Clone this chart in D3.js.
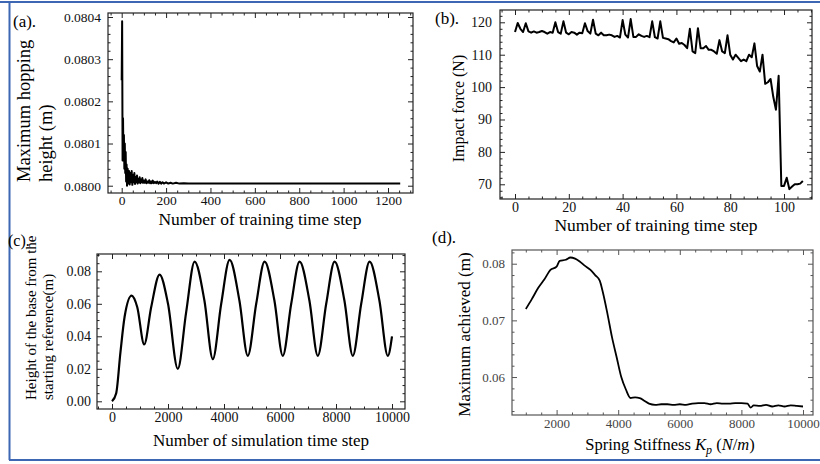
<!DOCTYPE html>
<html>
<head>
<meta charset="utf-8">
<script src="https://cdn.jsdelivr.net/npm/d3@7"></script>
<style>
  body { margin: 0; background: #fff; }
  svg { display: block; }
  svg text { font-family: "Liberation Serif", "DejaVu Serif", serif; }
</style>
</head>
<body>
<svg id="fig" width="820" height="464"></svg>
<script>
// (a) max hopping height vs training step
const aSteps = [0, 2, 4, 6, 8, 10, 12, 14, 16, 18, 20, 22, 24, 27, 30, 33, 36, 39, 42, 45, 48, 51, 54, 57, 60,
  63, 66, 69, 72, 75, 78, 81, 84, 87, 90, 93, 96, 100, 104, 108, 112, 116, 120, 124, 128, 132, 136, 140,
  145, 150, 155, 160, 166, 172, 178, 184, 190, 200, 210, 220, 230, 245, 260, 280, 300, 330, 400, 600, 900, 1255];
const aHeight = [0.08025, 0.08039, 0.08006, 0.08016, 0.08006, 0.08012, 0.08004, 0.08010, 0.08003, 0.08008,
  0.08001, 0.08005, 0.08000, 0.080040, 0.080005, 0.080035, 0.080003, 0.080030, 0.080008, 0.080035, 0.080002,
  0.080025, 0.080008, 0.080030, 0.080004, 0.080020, 0.080008, 0.080024, 0.080005, 0.080016, 0.080008,
  0.080020, 0.080006, 0.080014, 0.080008, 0.080018, 0.080007, 0.080012, 0.080007, 0.080015, 0.080006,
  0.080010, 0.080007, 0.080013, 0.080006, 0.080010, 0.080006, 0.080012, 0.080006, 0.080009, 0.080006,
  0.080010, 0.080005, 0.080009, 0.080005, 0.080008, 0.080005, 0.080008, 0.080005, 0.080007, 0.080005,
  0.080007, 0.080005, 0.080006, 0.080005, 0.080005, 0.080005, 0.080005, 0.080005, 0.080005];
const aXTicks = [0, 200, 400, 600, 800, 1000, 1200];
const aYTicks = [0.0800, 0.0801, 0.0802, 0.0803, 0.0804];

// (b) impact force, one value per training step (index = step)
const bForce = [117, 119.8, 118, 117, 119.7, 117.2, 116.8, 117.2, 116.8, 117, 117.3, 117, 116.5, 117, 116.8,
  120, 117, 116.5, 120.3, 116.8, 116.3, 117, 116.8, 116.2, 116.8, 116.6, 119.7, 117.3, 116.5, 120.8,
  116.5, 116, 116.8, 116, 116, 116.2, 116, 115.5, 115.8, 115.3, 120.7, 116.2, 115.3, 121, 115.5,
  115.5, 116.3, 115.8, 115.5, 115.8, 115.4, 120.3, 115.4, 115, 120.3, 115.2, 115, 114.8, 114.2, 113.8,
  115, 113.4, 113.6, 113, 112, 118, 111, 110.5, 118.2, 112, 112, 112.7, 111.5, 111.5, 111, 110.3,
  114.5, 111, 110.5, 116, 110, 108.5, 110, 109, 108, 108.5, 108, 110, 109.2, 113.5, 106.5, 104.8,
  110, 101, 101.5, 102.5, 97, 93, 103.5, 69.5, 69.5, 72, 68.5, 69.3, 70, 70, 70.2, 71];
const bXTicks = [0, 20, 40, 60, 80, 100];
const bYTicks = [70, 80, 90, 100, 110, 120];

// (c) base height over simulation steps
const cSteps = [0, 150, 300, 450, 700, 900, 1150, 1400, 1700, 2000, 2350, 2650, 2950, 3300, 3600, 3900, 4200,
  4550, 4850, 5150, 5450, 5800, 6100, 6400, 6700, 7050, 7350, 7650, 7950, 8300, 8600, 8900, 9200, 9550, 9850, 10000];
const cHeight = [0.000, 0.005, 0.030, 0.052, 0.065, 0.058, 0.035, 0.058, 0.078, 0.060, 0.020, 0.055, 0.086,
  0.062, 0.026, 0.060, 0.087, 0.062, 0.028, 0.060, 0.086, 0.062, 0.028, 0.060, 0.086, 0.062, 0.028, 0.060,
  0.086, 0.062, 0.028, 0.060, 0.086, 0.062, 0.028, 0.040];
const cXTicks = [0, 2000, 4000, 6000, 8000, 10000];
const cYTicks = [0, 0.02, 0.04, 0.06, 0.08];

// (d) max height vs spring stiffness
const dStiff = [1000, 1200, 1400, 1600, 1800, 2000, 2100, 2300, 2450, 2600, 2750, 2900, 3100, 3250, 3400, 3500,
  3650, 3800, 3950, 4100, 4250, 4400, 4550, 4700, 4850, 5000, 5200, 5400, 5600, 5800, 6000, 6200, 6400,
  6600, 6800, 7000, 7200, 7400, 7600, 7800, 8000, 8200, 8300, 8400, 8600, 8800, 9000, 9200, 9400, 9600, 9800, 10000];
const dMax = [0.0720, 0.0738, 0.0757, 0.0772, 0.0789, 0.0795, 0.0805, 0.0807, 0.0811, 0.0809, 0.0804, 0.0797,
  0.0789, 0.0780, 0.0770, 0.0750, 0.0712, 0.0670, 0.0635, 0.0600, 0.0578, 0.0563, 0.0564, 0.0563, 0.0558,
  0.0553, 0.0551, 0.0552, 0.0552, 0.0551, 0.0552, 0.0551, 0.0553, 0.0554, 0.0554, 0.0552, 0.0554, 0.0553,
  0.0553, 0.0554, 0.0554, 0.0553, 0.0546, 0.0550, 0.0549, 0.0551, 0.0548, 0.0550, 0.0548, 0.0550, 0.0549, 0.0548];
const dXTicks = [2000, 4000, 6000, 8000, 10000];
const dYTicks = [0.06, 0.07, 0.08];

const SERIF = '"Liberation Serif", "DejaVu Serif", serif';
const svg = d3.select('#fig');

// blue figure border (top, left, bottom)
const blue = '#3d67b3';
svg.append('line').attr('x1', 0).attr('x2', 820).attr('y1', 2).attr('y2', 2).attr('stroke', blue).attr('stroke-width', 2);
svg.append('line').attr('x1', 9.5).attr('x2', 9.5).attr('y1', 2).attr('y2', 460).attr('stroke', blue).attr('stroke-width', 2);
svg.append('line').attr('x1', 9).attr('x2', 820).attr('y1', 460).attr('y2', 460).attr('stroke', blue).attr('stroke-width', 2);

function minorTicks(ticks, n, domain) {
  // n minor ticks between each pair of majors, extended over the domain
  const step = (ticks[1] - ticks[0]) / (n + 1);
  const out = [];
  const lo = Math.min(...domain), hi = Math.max(...domain);
  for (let v = ticks[0] - step * Math.floor((ticks[0] - lo) / step); v <= hi + 1e-12; v += step) {
    if (!ticks.some(t => Math.abs(t - v) < step * 0.01)) out.push(v);
  }
  return out;
}

function panel(o) {
  const x = d3.scaleLinear().domain(o.xDomain).range([o.left, o.right]);
  const y = d3.scaleLinear().domain(o.yDomain).range([o.bottom, o.top]);
  const g = svg.append('g');
  const xMinor = minorTicks(o.xTicks, o.xMinorN, o.xDomain);
  const yMinor = minorTicks(o.yTicks, o.yMinorN, o.yDomain);

  const sides = [
    [d3.axisBottom, x, `translate(0,${o.bottom})`, o.xTicks, xMinor, o.xFormat, o.xPad],
    [d3.axisTop, x, `translate(0,${o.top})`, o.xTicks, xMinor, null],
    [d3.axisLeft, y, `translate(${o.left},0)`, o.yTicks, yMinor, o.yFormat, o.yPad],
    [d3.axisRight, y, `translate(${o.right},0)`, o.yTicks, yMinor, null]
  ];
  sides.forEach(([ax, sc, tr, major, minor, fmt, pad]) => {
    const gm = g.append('g').attr('transform', tr)
      .call(ax(sc).tickValues(minor).tickSize(-2.5).tickFormat(''));
    const gM = g.append('g').attr('transform', tr)
      .call(ax(sc).tickValues(major).tickSize(-5).tickPadding(pad || 4)
        .tickFormat(fmt ? fmt : () => ''));
    [gm, gM].forEach(s => {
      s.select('.domain').remove();
      s.selectAll('line').attr('stroke', o.frameColor);
    });
    gM.attr('font-family', null).attr('font-size', null);
    gM.selectAll('text')
      .style('font-family', SERIF)
      .style('font-size', o.tickFont + 'px')
      .attr('fill', o.tickColor);
  });

  g.append('rect')
    .attr('x', o.left).attr('y', o.top)
    .attr('width', o.right - o.left).attr('height', o.bottom - o.top)
    .attr('fill', 'none').attr('stroke', o.frameColor).attr('stroke-width', 1.2);

  const line = d3.line()
    .x(d => x(d[0])).y(d => y(d[1]))
    .curve(o.curve || d3.curveLinear);
  g.append('path')
    .datum(o.points)
    .attr('d', line)
    .attr('fill', 'none')
    .attr('stroke', '#000')
    .attr('stroke-width', o.lineWidth)
    .attr('stroke-linejoin', 'round');
  return g;
}

function text(str, x, y, size, opts = {}) {
  const t = svg.append('text')
    .attr('x', x).attr('y', y)
    .style('font-family', SERIF)
    .style('font-size', size + 'px')
    .attr('fill', opts.fill || '#000')
    .attr('text-anchor', opts.anchor || 'start')
    .text(str);
  if (opts.rotate) t.attr('transform', `rotate(-90,${x},${y})`);
  return t;
}

// (a)
panel({
  left: 108, right: 413, top: 13, bottom: 193,
  xDomain: [-61.7, 1312.6], yDomain: [0.0799827, 0.0804095],
  xTicks: aXTicks, yTicks: aYTicks, xMinorN: 3, yMinorN: 4,
  xFormat: d3.format('d'), yFormat: d3.format('.4f'),
  xPad: 2, yPad: 7, tickFont: 13.5, tickColor: '#111', frameColor: '#222',
  points: aSteps.map((s, i) => [s, aHeight[i]]), lineWidth: 2
});
text('(a).', 13, 27, 17);
text('Number of training time step', 260, 225, 17.5, { anchor: 'middle' });
text('Maximum hopping', 30, 182, 18.5, { rotate: true });
text('height (m)', 52, 182, 18.5, { rotate: true });

// (b)
panel({
  left: 500, right: 812, top: 10, bottom: 199,
  xDomain: [-5.58, 110.4], yDomain: [65.46, 123.8],
  xTicks: bXTicks, yTicks: bYTicks, xMinorN: 3, yMinorN: 4,
  xFormat: d3.format('d'), yFormat: d3.format('d'),
  xPad: 3, yPad: 8, tickFont: 14, tickColor: '#111', frameColor: '#222',
  points: bForce.map((v, i) => [i, v]), lineWidth: 2
});
text('(b).', 435, 24, 17);
text('Number of training time step', 656, 231, 17.5, { anchor: 'middle' });
text('Impact force (N)', 464, 108.5, 16, { anchor: 'middle', rotate: true });

// (c)
panel({
  left: 97, right: 405, top: 254, bottom: 409,
  xDomain: [-536, 10464], yDomain: [-0.00474, 0.09065],
  xTicks: cXTicks, yTicks: cYTicks, xMinorN: 3, yMinorN: 3,
  xFormat: d3.format('d'), yFormat: d3.format('.2f'),
  xPad: 3, yPad: 6, tickFont: 14, tickColor: '#111', frameColor: '#222',
  points: cSteps.map((s, i) => [s, cHeight[i]]), lineWidth: 2.2,
  curve: d3.curveMonotoneX
});
text('(c).', 8, 246, 16);
text('Number of simulation time step', 261, 446, 17, { anchor: 'middle' });
text('Height of the base from the', 36, 400, 15, { rotate: true });
text('starting reference(m)', 53, 400, 15, { rotate: true });

// (d)
panel({
  left: 512, right: 813, top: 250, bottom: 415,
  xDomain: [552, 10325], yDomain: [0.0533, 0.08242],
  xTicks: dXTicks, yTicks: dYTicks, xMinorN: 3, yMinorN: 4,
  xFormat: d3.format('d'), yFormat: d3.format('.2f'),
  xPad: 4, yPad: 7, tickFont: 13, tickColor: '#444', frameColor: '#555',
  points: dStiff.map((s, i) => [s, dMax[i]]), lineWidth: 1.8,
  curve: d3.curveMonotoneX
});
text('(d).', 432, 243, 17);
text('Maximum achieved (m)', 470, 334.5, 17, { anchor: 'middle', rotate: true });
const dx = text('Spring Stiffness ', 670, 450, 16.5, { anchor: 'middle' });
dx.append('tspan').attr('font-style', 'italic').text('K');
dx.append('tspan').attr('font-style', 'italic').style('font-size', '12px').attr('dy', 4).text('p');
dx.append('tspan').attr('dy', -4).text(' (');
dx.append('tspan').attr('font-style', 'italic').text('N');
dx.append('tspan').text('/');
dx.append('tspan').attr('font-style', 'italic').text('m');
dx.append('tspan').text(')');
</script>
</body>
</html>
